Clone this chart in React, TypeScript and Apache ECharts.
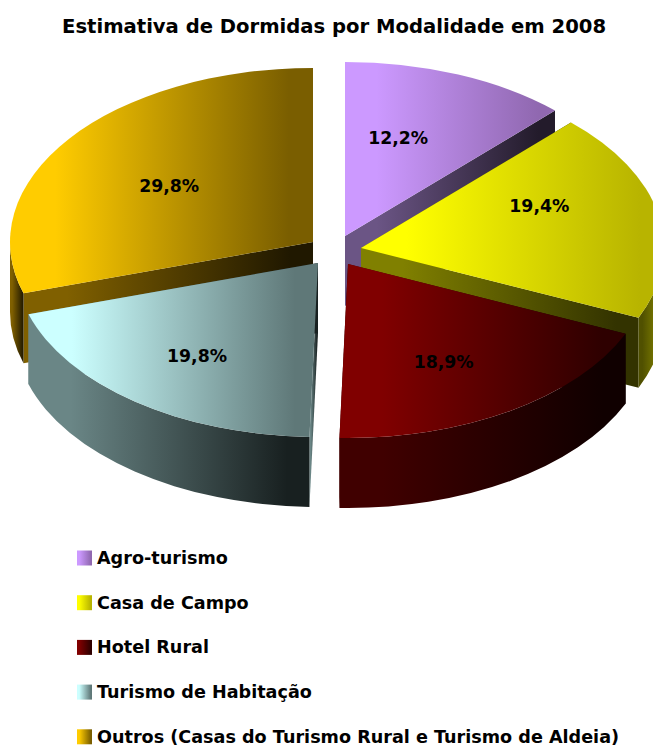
import React, { useEffect, useRef } from "react";
import * as echarts from "echarts";

const categories = [
  "Agro-turismo",
  "Casa de Campo",
  "Hotel Rural",
  "Turismo de Habitação",
  "Outros (Casas do Turismo Rural e Turismo de Aldeia)",
];
const shares = [12.2, 19.4, 18.9, 19.8, 29.8];

const CX = 333, CY = 252, RX = 303, RY = 174, DEPTH = 70;
const FONT = '"DejaVu Sans"';
const explode = [[12, -16], [28, -4], [15, 12], [-15, 11], [-20, -10]];
const paintOrder = [1, 3, 5, 4, 2];
const labelFrac = [[0.47, 0.61], [0.6, 1.25], [0.59, 0.67], [0.66, 0.67], [0.59, 0.54]];
const topColors = [
  ["#CC99FF", "#9068B0"], ["#FFFF00", "#B8B400"], ["#800000", "#2E0000"],
  ["#CCFFFF", "#5F7878"], ["#FFCC00", "#7A5E00"],
];
const innerColors = [
  ["#6B5585", "#231B2B"], ["#808000", "#333300"], ["#400000", "#100000"],
  ["#6A8686", "#182020"], ["#806000", "#201800"],
];
const outerColors = [
  ["#6B5585", "#231B2B"], ["#505000", "#8A8A00"], ["#400000", "#100000"],
  ["#6A8686", "#182020"], ["#806000", "#281E00"],
];

const grad = (c: string[]) =>
  new echarts.graphic.LinearGradient(0, 0, 1, 0, [
    { offset: 0, color: c[0] },
    { offset: 0.15, color: c[0] },
    { offset: 0.92, color: c[1] },
    { offset: 1, color: c[1] },
  ]);
const total = shares.reduce((a, b) => a + b, 0);
const rad = (d: number) => (d * Math.PI) / 180;

function renderSlice(i: number) {
  const before = shares.slice(0, i).reduce((a, b) => a + b, 0);
  const a0 = (before / total) * 360;
  const a1 = ((before + shares[i]) / total) * 360;
  const ax = CX + explode[i][0];
  const ay = CY + explode[i][1];
  const P = (a: number, dy = 0) =>
    `${(ax + RX * Math.sin(rad(a))).toFixed(2)} ${(ay - RY * Math.cos(rad(a)) + dy).toFixed(2)}`;
  const large = a1 - a0 > 180 ? 1 : 0;
  const children: any[] = [];
  const wall = (a: number) => ({
    type: "path",
    shape: { pathData: `M${ax} ${ay}L${P(a)}L${P(a, DEPTH)}L${ax} ${ay + DEPTH}Z` },
    style: { fill: grad(innerColors[i]) },
  });
  children.push(wall(a0));
  children.push(wall(a1));
  const o0 = Math.max(a0, 90);
  const o1 = Math.min(a1, 270);
  if (o0 < o1) {
    children.push({
      type: "path",
      shape: {
        pathData: `M${P(o0)}A${RX} ${RY} 0 0 1 ${P(o1)}L${P(o1, DEPTH)}A${RX} ${RY} 0 0 0 ${P(o0, DEPTH)}Z`,
      },
      style: { fill: grad(outerColors[i]) },
    });
  }
  children.push({
    type: "path",
    shape: { pathData: `M${ax} ${ay}L${P(a0)}A${RX} ${RY} 0 ${large} 1 ${P(a1)}Z` },
    style: { fill: grad(topColors[i]) },
  });
  const mid = (a0 + a1) / 2;
  children.push({
    type: "text",
    z2: 100,
    style: {
      text: shares[i].toFixed(1).replace(".", ",") + "%",
      x: ax + labelFrac[i][0] * RX * Math.sin(rad(mid)),
      y: ay - labelFrac[i][1] * RY * Math.cos(rad(mid)),
      align: "center",
      verticalAlign: "middle",
      fill: "#000",
      font: `bold 17.3px ${FONT}`,
    },
  });
  return { type: "group", children };
}

export default function App() {
  const ref = useRef<HTMLDivElement>(null);
  useEffect(() => {
    const chart = echarts.init(ref.current!, null, { renderer: "svg" });
    chart.setOption({
      animation: false,
      backgroundColor: "#fff",
      title: {
        text: "Estimativa de Dormidas por Modalidade em 2008",
        left: 62,
        top: 16,
        padding: 0,
        textStyle: { fontFamily: FONT, fontWeight: "bold", fontSize: 19.6, color: "#000" },
      },
      legend: {
        orient: "vertical",
        left: 77,
        top: 549,
        width: 570,
        height: 300,
        padding: 0,
        itemWidth: 15,
        itemHeight: 15,
        itemGap: 26.7,
        selectedMode: false,
        textStyle: { fontFamily: FONT, fontWeight: "bold", fontSize: 17.6, color: "#000", padding: 0 },
        data: categories.map((name, i) => ({
          name,
          icon: "rect",
          itemStyle: { color: grad(topColors[i]) },
        })),
      },
      series: categories.map((name, i) => ({
        type: "custom",
        name,
        coordinateSystem: "none",
        z: paintOrder[i],
        silent: true,
        itemStyle: { color: topColors[i][0] },
        data: [shares[i]],
        renderItem: () => renderSlice(i),
      })),
    });
    return () => chart.dispose();
  }, []);
  return <div ref={ref} style={{ position: "fixed", left: 0, top: 0, width: 653, height: 746 }} />;
}
